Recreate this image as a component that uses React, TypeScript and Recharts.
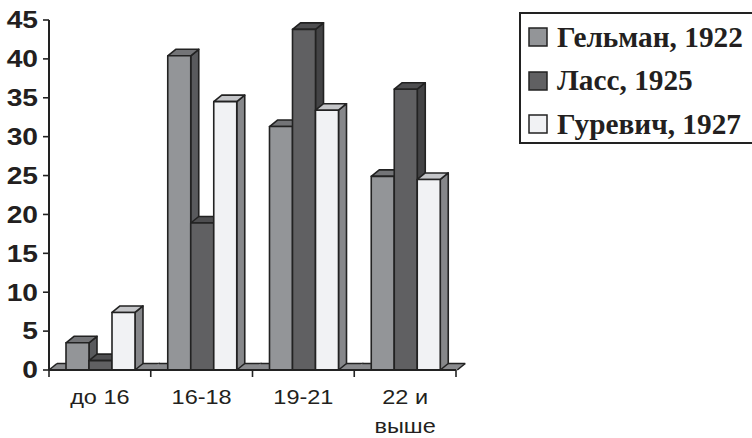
import React from 'react';
import { BarChart, Bar, XAxis, YAxis, Legend } from 'recharts';

const categories = ['до 16', '16-18', '19-21', '22 и выше'];
const gelman1922 = [3.5, 40.4, 31.3, 24.9];
const lass1925 = [1.2, 18.9, 43.8, 36.1];
const gurevich1927 = [7.4, 34.5, 33.4, 24.5];
const yTicks = [0, 5, 10, 15, 20, 25, 30, 35, 40, 45];
const seriesNames = ['Гельман, 1922', 'Ласс, 1925', 'Гуревич, 1927'];

const data = categories.map((c, i) => ({
  category: c,
  gelman: gelman1922[i],
  lass: lass1925[i],
  gurevich: gurevich1927[i],
}));

const DX = 8;
const DY = 6.5;
const GAP = 17;
const STROKE = '#222';
const SW = 1.6;

const palette = {
  gelman: { front: '#939598', top: '#737477', side: '#595a5d' },
  lass: { front: '#606062', top: '#4e4e50', side: '#434345' },
  gurevich: { front: '#f1f2f4', top: '#c4c5c8', side: '#86878a' },
};
const floorFill = '#8a8b8e';

function make3DBar(colors: { front: string; top: string; side: string }, drawFloor: boolean) {
  return (props: any) => {
    const { x, y, width, height, index } = props;
    const yb = y + height;
    const parts: any[] = [];
    if (drawFloor) {
      const bs = x - GAP;
      const be = bs + 3 * width + 2 * GAP;
      parts.push(
        <polygon
          key="floor"
          points={`${bs},${yb} ${bs + DX},${yb - DY} ${be + DX},${yb - DY} ${be},${yb}`}
          fill={floorFill}
          stroke="none"
        />
      );
      parts.push(
        <line key="ftop" x1={bs + DX} y1={yb - DY} x2={be + DX} y2={yb - DY} stroke={STROKE} strokeWidth={SW} />
      );
      if (index === 0) {
        parts.push(<line key="fl" x1={bs} y1={yb} x2={bs + DX} y2={yb - DY} stroke={STROKE} strokeWidth={SW} />);
      }
      if (index === categories.length - 1) {
        parts.push(<line key="fr" x1={be} y1={yb} x2={be + DX} y2={yb - DY} stroke={STROKE} strokeWidth={SW} />);
      }
    }
    parts.push(
      <polygon
        key="side"
        points={`${x + width},${y} ${x + width + DX},${y - DY} ${x + width + DX},${yb - DY} ${x + width},${yb}`}
        fill={colors.side}
        stroke={STROKE}
        strokeWidth={SW}
        strokeLinejoin="round"
      />
    );
    parts.push(
      <polygon
        key="top"
        points={`${x},${y} ${x + DX},${y - DY} ${x + width + DX},${y - DY} ${x + width},${y}`}
        fill={colors.top}
        stroke={STROKE}
        strokeWidth={SW}
        strokeLinejoin="round"
      />
    );
    parts.push(
      <rect
        key="front"
        x={x}
        y={y}
        width={width}
        height={height}
        fill={colors.front}
        stroke={STROKE}
        strokeWidth={SW}
        strokeLinejoin="round"
      />
    );
    return <g>{parts}</g>;
  };
}

const YTick = (props: any) => {
  const { x, y, payload } = props;
  return (
    <g transform={`translate(${x},${y})`}>
      <text
        transform="scale(1.2,1)"
        x={0}
        y={0}
        dy={8.3}
        textAnchor="end"
        fontFamily="'Liberation Sans', Arial, sans-serif"
        fontWeight="bold"
        fontSize={23.5}
        fill="#231f20"
      >
        {payload.value}
      </text>
    </g>
  );
};

function wrapLabel(s: string): string[] {
  const idx = s.indexOf(' и ');
  if (idx >= 0) return [s.slice(0, idx + 2), s.slice(idx + 3)];
  return [s];
}

const XTick = (props: any) => {
  const { x, y, payload, index } = props;
  const half = typeof payload.offset === 'number' && payload.offset > 0 ? payload.offset : 50.9;
  const lines = wrapLabel(String(payload.value));
  return (
    <g>
      <line x1={x - half} y1={y} x2={x - half} y2={y + 7} stroke={STROKE} strokeWidth={SW} />
      {index === categories.length - 1 && (
        <line x1={x + half} y1={y} x2={x + half} y2={y + 7} stroke={STROKE} strokeWidth={SW} />
      )}
      <g transform={`translate(${x},${y})`}>
        <text
          transform="scale(1.12,1)"
          textAnchor="middle"
          fontFamily="'Liberation Sans', Arial, sans-serif"
          fontSize={21}
          fill="#231f20"
        >
          {lines.map((l, i) => (
            <tspan key={i} x={0} y={34 + i * 29}>
              {l}
            </tspan>
          ))}
        </text>
      </g>
    </g>
  );
};

const legendColors = [palette.gelman.front, palette.lass.front, palette.gurevich.front];
const legendBaselines = [46.5, 90, 133.5];
const legendSquares = [28, 72, 115];

const LegendBox = () => (
  <svg width={237} height={150} style={{ display: 'block' }}>
    <rect x={5} y={13} width={260} height={130} fill="#fff" stroke={STROKE} strokeWidth={2} />
    {seriesNames.map((name, i) => (
      <g key={name}>
        <rect x={14} y={legendSquares[i]} width={18} height={18} fill={legendColors[i]} stroke={STROKE} strokeWidth={1.5} />
        <text
          x={42}
          y={legendBaselines[i]}
          fontFamily="'Liberation Serif', 'Times New Roman', serif"
          fontWeight="bold"
          fontSize={29.3}
          fill="#231f20"
        >
          {name}
        </text>
      </g>
    ))}
  </svg>
);

export default function App() {
  return (
    <div style={{ position: 'absolute', left: 0, top: 0, width: 752, height: 438, overflow: 'hidden', background: '#fff' }}>
      <BarChart
        width={752}
        height={438}
        data={data}
        margin={{ top: 20, right: 296, bottom: 0, left: 0 }}
        barCategoryGap={GAP}
        barGap={0}
      >
        <XAxis
          dataKey="category"
          height={68}
          interval={0}
          tickLine={false}
          tickSize={0}
          tickMargin={0}
          axisLine={{ stroke: STROKE, strokeWidth: 2 }}
          tick={<XTick />}
        />
        <YAxis
          width={49}
          domain={[0, 45]}
          ticks={yTicks}
          interval={0}
          tickSize={6}
          tickMargin={5}
          tickLine={{ stroke: STROKE, strokeWidth: SW }}
          axisLine={{ stroke: STROKE, strokeWidth: 2 }}
          tick={<YTick />}
        />
        <Legend
          layout="horizontal"
          verticalAlign="middle"
          align="center"
          content={<LegendBox />}
          wrapperStyle={{ left: 515, top: 0, width: 237, height: 150 }}
        />
        <Bar dataKey="gelman" name={seriesNames[0]} isAnimationActive={false} shape={make3DBar(palette.gelman, true)} />
        <Bar dataKey="lass" name={seriesNames[1]} isAnimationActive={false} shape={make3DBar(palette.lass, false)} />
        <Bar dataKey="gurevich" name={seriesNames[2]} isAnimationActive={false} shape={make3DBar(palette.gurevich, false)} />
      </BarChart>
    </div>
  );
}
